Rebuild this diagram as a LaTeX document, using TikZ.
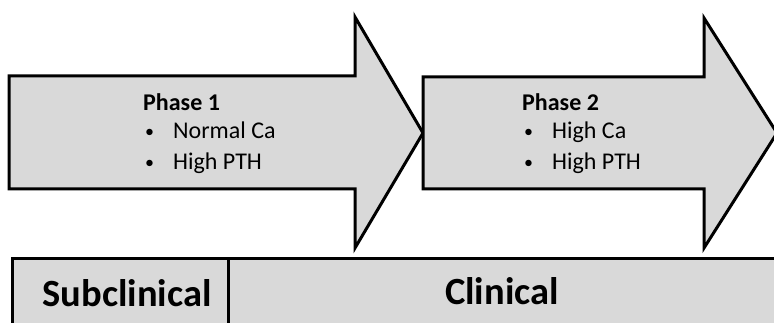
\documentclass[tikz,border=0pt]{standalone}
\usepackage{fontspec}
\setmainfont{Carlito}
\usetikzlibrary{calc, positioning}
\definecolor{phasefill}{RGB}{217,217,217}
\newcommand{\phasebullet}{\makebox[28pt][l]{\raisebox{1.5pt}{\fontsize{18}{18}\selectfont•}}}

\begin{document}
\begin{tikzpicture}[x=1pt, y=-1pt,
  phasearrow/.style={draw, line width=3pt, fill=phasefill, line join=miter},
  phasetitle/.style={font=\fontsize{24}{29}\selectfont\bfseries, inner sep=0pt, anchor=base west},
  phaseitem/.style={font=\fontsize{24}{29}\selectfont, inner sep=0pt, anchor=base west},
  stagelabel/.style={font=\fontsize{38.5}{46}\selectfont\bfseries, inner sep=0pt, anchor=base}
]
  \clip (0,0) rectangle (774,323);

  % stage bar
  \draw[phasearrow] (12,259) -- (790,259) -- (790,340) -- (12,340) -- cycle;
  \draw[line width=3pt] (228,259) -- (228,340);
  \node[stagelabel] (sub) at (127,306) {Subclinical};
  \node[stagelabel] (clin) at (502,305) {Clinical};

  % phase arrows
  \draw[phasearrow] (9,76) -- (355,76) -- (355,17) -- (423,133)
    -- (355,248) -- (355,189) -- (9,189) -- cycle;
  \draw[phasearrow] (423,77) -- (704,77) -- (704,18) -- (777,133)
    -- (704,248) -- (704,189) -- (423,189) -- cycle;

  % phase 1
  \node[phasetitle] (p1) at (143,111) {Phase 1};
  \node[phaseitem] (p1a) at ($(p1.base west)+(2,28)$) {\phasebullet Normal Ca};
  \node[phaseitem] (p1b) at ($(p1a.base west)+(0,31)$) {\phasebullet High PTH};

  % phase 2
  \node[phasetitle] (p2) at (522,111) {Phase 2};
  \node[phaseitem] (p2a) at ($(p2.base west)+(2,28)$) {\phasebullet High Ca};
  \node[phaseitem] (p2b) at ($(p2a.base west)+(0,31)$) {\phasebullet High PTH};
\end{tikzpicture}
\end{document}
